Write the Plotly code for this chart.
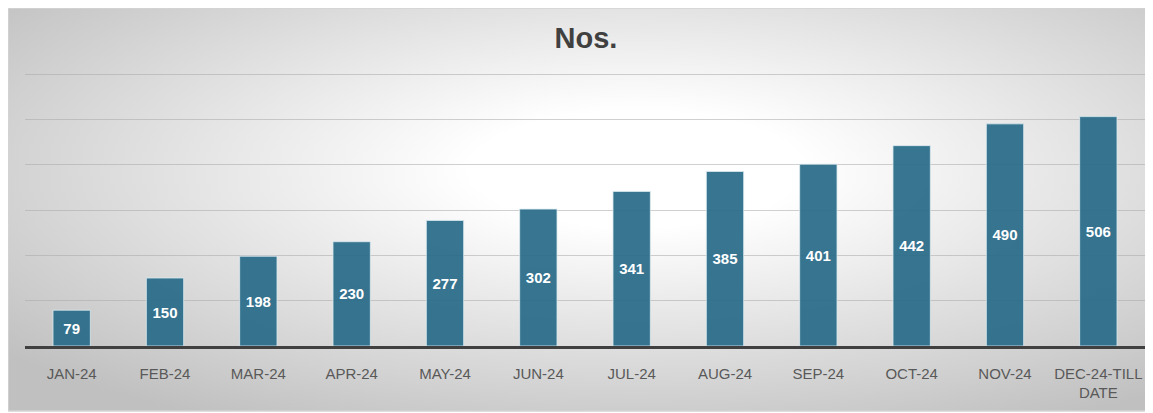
import base64
import plotly.graph_objects as go

# data
months = ["JAN-24", "FEB-24", "MAR-24", "APR-24", "MAY-24", "JUN-24",
          "JUL-24", "AUG-24", "SEP-24", "OCT-24", "NOV-24", "DEC-24-TILL<br>DATE"]
counts = [79, 150, 198, 230, 277, 302, 341, 385, 401, 442, 490, 506]
grid_vals = [100, 200, 300, 400, 500, 600]

# the page body adds an 8px margin, so the figure is a little smaller
W, H = 1145, 405
ML, MR, MT, MB = 17, 8, 62, 67
PW, PH = W - ML - MR, H - MT - MB
Y_TOP = 600 * PH / 272  # keep 600 at the same height, with room above it


def px_to_paper(px, py):
    return (px - ML) / PW, (H - MB - py) / PH


# radial grey gradient for the chart area, as an inline svg image
svg = """<svg xmlns='http://www.w3.org/2000/svg' width='1000' height='400' viewBox='0 0 1000 400' preserveAspectRatio='none'>
<defs><radialGradient id='g' cx='0.55' cy='0.4' r='0.72'>
<stop offset='0' stop-color='#ffffff'/>
<stop offset='0.2' stop-color='#ffffff'/>
<stop offset='1' stop-color='#c0c0c0'/>
</radialGradient></defs>
<rect width='1000' height='400' fill='url(#g)'/>
</svg>"""
bg_src = "data:image/svg+xml;base64," + base64.b64encode(svg.encode()).decode()

x0, y0 = px_to_paper(0, 0)
x1, y1 = px_to_paper(1142, 403)

fig = go.Figure()
fig.add_trace(go.Bar(
    x=months, y=counts,
    marker=dict(color="rgba(40,106,137,0.93)", line=dict(color="rgba(220,235,240,0.8)", width=1)),
    text=counts, texttemplate="<b>%{text}</b>",
    textposition="inside", insidetextanchor="middle",
    textfont=dict(family="Arial, Liberation Sans", size=15, color="white"),
    textangle=0, cliponaxis=False,
))

fig.add_layout_image(dict(
    source=bg_src, xref="paper", yref="paper",
    x=x0, y=y0, sizex=x1 - x0, sizey=y0 - y1,
    xanchor="left", yanchor="top", sizing="stretch", layer="below",
))
fig.add_shape(type="rect", xref="paper", yref="paper",
              x0=x0, y0=y1, x1=x1, y1=y0,
              line=dict(color="#d4d4d4", width=1.5), layer="below")

fig.update_layout(
    width=W, height=H,
    margin=dict(l=ML, r=MR, t=MT, b=MB),
    paper_bgcolor="white", plot_bgcolor="rgba(0,0,0,0)",
    bargap=0.6, showlegend=False,
    font=dict(family="Arial, Liberation Sans", color="#595959"),
    title=dict(text="<b>Nos.</b>", x=(578 - ML) / PW, xref="paper", xanchor="center",
               y=1 - 30 / H, yanchor="middle",
               font=dict(size=29, color="#404040", family="Arial, Liberation Sans")),
)
fig.update_xaxes(
    showline=True, linecolor="#404040", linewidth=2.5,
    ticks="outside", ticklen=12, tickcolor="rgba(0,0,0,0)",
    tickfont=dict(size=15, color="#595959"), showgrid=False,
)
fig.update_yaxes(
    range=[0, Y_TOP], tickvals=grid_vals, showticklabels=False,
    showgrid=True, gridcolor="rgba(170,170,170,0.55)", gridwidth=1,
    zeroline=False,
)

fig.write_html("out.html")
